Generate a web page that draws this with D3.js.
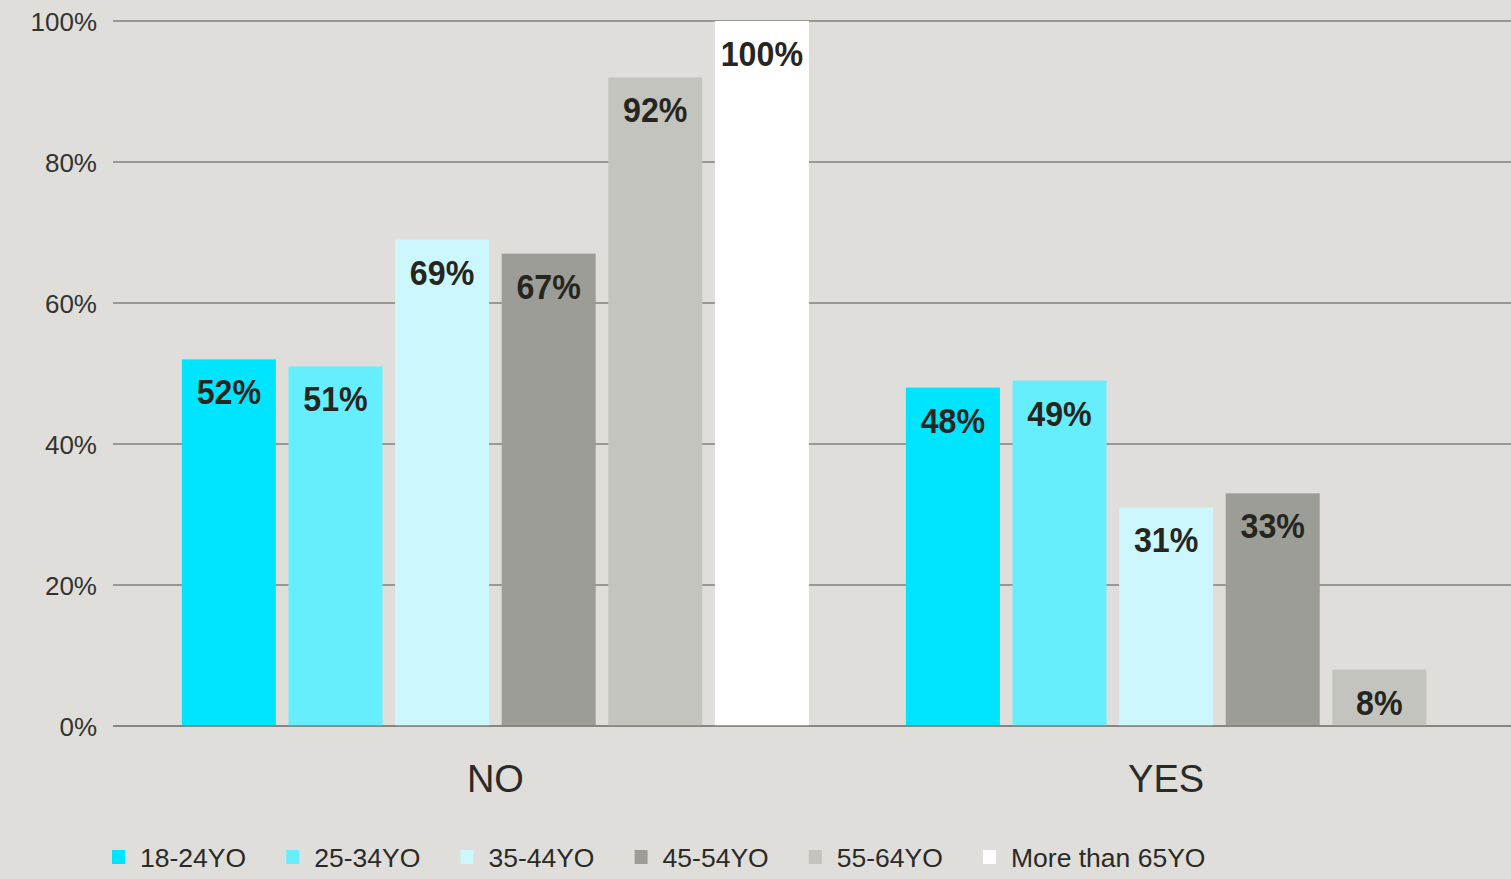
<!DOCTYPE html>
<html>
<head>
<meta charset="utf-8">
<script src="https://cdn.jsdelivr.net/npm/d3@7"></script>
<style>
  html, body { margin: 0; padding: 0; background: #dfdeda; }
  svg { display: block; }
</style>
</head>
<body>
<svg id="chart" width="1511" height="879"></svg>
<script>
// ---- data ----
const groups = ["NO", "YES"];
const series = ["18-24YO", "25-34YO", "35-44YO", "45-54YO", "55-64YO", "More than 65YO"];
const noValues = [52, 51, 69, 67, 92, 100];
const yesValues = [48, 49, 31, 33, 8, null];
const yTicks = [0, 20, 40, 60, 80, 100];
const colors = ["#00e5ff", "#66eefd", "#ccf7fc", "#9d9d97", "#c4c4bf", "#ffffff"];

const valuesByGroup = { "NO": noValues, "YES": yesValues };

// ---- layout ----
const W = 1511, H = 879;
const plotLeft = 113, plotRight = 1511, plotTop = 21, plotBottom = 726;
const innerStep = 106.6;

const svg = d3.select("#chart");

const y = d3.scaleLinear().domain([0, 100]).range([plotBottom, plotTop]);
const x0 = d3.scaleBand().domain(groups).range([160, 1501.5]).padding(0);

// gridlines
svg.append("g")
  .selectAll("line")
  .data(yTicks)
  .join("line")
  .attr("x1", plotLeft).attr("x2", plotRight)
  .attr("y1", d => y(d)).attr("y2", d => y(d))
  .attr("stroke", "#82827c")
  .attr("stroke-width", 1.5);

// y axis labels
const yAxis = d3.axisLeft(y).tickValues(yTicks).tickFormat(d => d + "%").tickSize(0).tickPadding(0);
const yg = svg.append("g").attr("transform", `translate(97,0)`).call(yAxis);
yg.select(".domain").remove();
yg.selectAll("text")
  .attr("font-family", "'Liberation Sans', Arial, sans-serif")
  .attr("font-size", 26)
  .attr("fill", "#333330")
  .attr("dy", "0.36em");

// bars
groups.forEach(g => {
  const vals = valuesByGroup[g];
  const present = series.filter((s, i) => vals[i] !== null && vals[i] !== undefined);
  const c = x0(g) + x0.bandwidth() / 2;
  const n = present.length;
  const x1 = d3.scaleBand()
    .domain(present)
    .range([c - n * innerStep / 2, c + n * innerStep / 2])
    .paddingInner(0.118)
    .paddingOuter(0.059);

  const data = present.map(s => ({ s, v: vals[series.indexOf(s)], color: colors[series.indexOf(s)] }));
  const gg = svg.append("g");
  gg.selectAll("rect")
    .data(data)
    .join("rect")
    .attr("x", d => x1(d.s))
    .attr("width", x1.bandwidth())
    .attr("y", d => y(d.v))
    .attr("height", d => y(0) - y(d.v))
    .attr("fill", d => d.color);

  gg.selectAll("text")
    .data(data)
    .join("text")
    .attr("transform", d => `translate(${x1(d.s) + x1.bandwidth() / 2},${y(d.v) + 45}) scale(0.92,1)`)
    .attr("text-anchor", "middle")
    .attr("font-family", "'Liberation Sans', Arial, sans-serif")
    .attr("font-weight", "bold")
    .attr("font-size", 35)
    .attr("fill", "#26261f")
    .text(d => d.v + "%");
});

// redraw zero line over bars
svg.append("line")
  .attr("x1", plotLeft).attr("x2", plotRight)
  .attr("y1", y(0)).attr("y2", y(0))
  .attr("stroke", "#82827c").attr("stroke-width", 1.5);

// x axis group labels
const xAxis = d3.axisBottom(x0).tickSize(0).tickPadding(0);
const xg = svg.append("g").attr("transform", `translate(0,${plotBottom})`).call(xAxis);
xg.select(".domain").remove();
xg.selectAll("text")
  .attr("font-family", "'Liberation Sans', Arial, sans-serif")
  .attr("font-size", 38)
  .attr("fill", "#2a2a26")
  .attr("dy", null)
  .attr("y", 66);

// legend
const legendX = d3.scalePoint().domain(series).range([112, 983]);
const lg = svg.append("g").selectAll("g").data(series).join("g")
  .attr("transform", d => `translate(${legendX(d)},0)`);
lg.append("rect")
  .attr("x", 0).attr("y", 850).attr("width", 13).attr("height", 14)
  .attr("fill", (d, i) => colors[i]);
lg.append("text")
  .attr("x", 28).attr("y", 867)
  .attr("font-family", "'Liberation Sans', Arial, sans-serif")
  .attr("font-size", 26.5)
  .attr("fill", "#2a2a26")
  .text(d => d);
</script>
</body>
</html>
